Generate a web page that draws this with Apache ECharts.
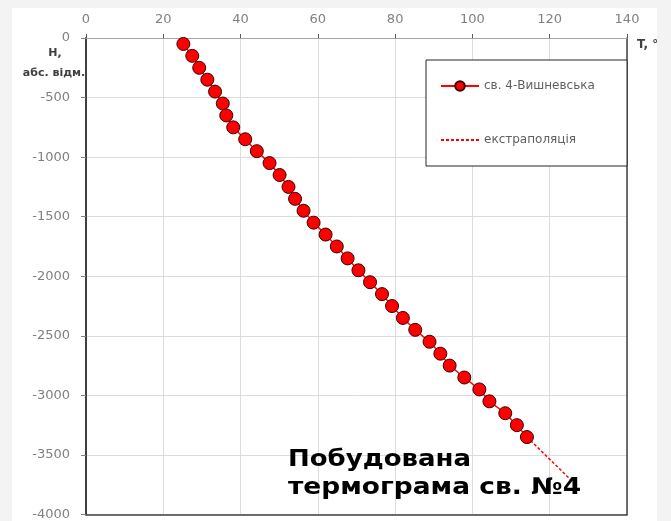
<!DOCTYPE html>
<html>
<head>
<meta charset="utf-8">
<script src="https://cdn.jsdelivr.net/npm/echarts@6/dist/echarts.min.js"></script>
<style>
html,body{margin:0;padding:0;background:#fff;}
#chart{width:671px;height:521px;}
</style>
</head>
<body>
<div id="chart"></div>
<script>
// Temperature (°C) measured in well 4-Vyshnevska
const temps = [25.2, 27.5, 29.3, 31.4, 33.4, 35.4, 36.3, 38.1, 41.2, 44.2, 47.5, 50.1, 52.4, 54.1, 56.3,
  58.9, 62.0, 64.9, 67.7, 70.5, 73.5, 76.6, 79.2, 82.0, 85.2, 88.9, 91.7, 94.1, 97.9, 101.8, 104.4, 108.5, 111.5, 114.1];
// Absolute elevation (m)
const depths = [-50, -150, -250, -350, -450, -550, -650, -750, -850, -950, -1050, -1150, -1250, -1350, -1450,
  -1550, -1650, -1750, -1850, -1950, -2050, -2150, -2250, -2350, -2450, -2550, -2650, -2750, -2850, -2950, -3050, -3150, -3250, -3350];
// Extrapolation segment
const extrapTemps = [114.1, 125.5];
const extrapDepths = [-3350, -3710];
const seriesNames = ['св. 4-Вишневська', 'екстраполяція'];
const xTicks = [0, 20, 40, 60, 80, 100, 120, 140];
const yTicks = [0, -500, -1000, -1500, -2000, -2500, -3000, -3500, -4000];

const measured = temps.map((t, i) => [t, depths[i]]);
const extrap = extrapTemps.map((t, i) => [t, extrapDepths[i]]);

const chart = echarts.init(document.getElementById('chart'), null, {renderer: 'canvas'});
const labelFont = {color: '#808080', fontSize: 13, fontFamily: 'DejaVu Sans'};
const titleFont = 'bold 23px "DejaVu Sans"';
chart.setOption({
  backgroundColor: '#ffffff',
  animation: false,
  grid: {left: 86, top: 38, right: 44, bottom: 4},
  legend: {
    data: [{name: seriesNames[0]}, {name: seriesNames[1], itemStyle: {opacity: 0}}],
    orient: 'vertical',
    left: 440, top: 80,
    itemWidth: 38, itemHeight: 12, itemGap: 42,
    padding: 0,
    textStyle: {fontSize: 12, color: '#606060', fontFamily: 'DejaVu Sans'},
    z: 10
  },
  xAxis: [{
    type: 'value', position: 'top', min: xTicks[0], max: xTicks[xTicks.length - 1], interval: 20,
    axisLine: {show: true, lineStyle: {color: '#a6a6a6', width: 1}},
    axisTick: {show: true, length: 4, lineStyle: {color: '#595959'}},
    axisLabel: Object.assign({margin: 12, formatter: v => String(v)}, labelFont),
    splitLine: {show: true, lineStyle: {color: '#dcdcdc', width: 1}}
  }, {
    type: 'value', position: 'bottom', min: 0, max: 140, interval: 20,
    axisLine: {show: true, onZero: false, lineStyle: {color: '#404040', width: 1.5}},
    axisTick: {show: false}, axisLabel: {show: false}, splitLine: {show: false}
  }],
  yAxis: [{
    type: 'value', position: 'left', min: yTicks[yTicks.length - 1], max: yTicks[0], interval: 500,
    axisLine: {show: true, onZero: false, lineStyle: {color: '#404040', width: 2}},
    axisTick: {show: true, length: 5, lineStyle: {color: '#808080'}},
    axisLabel: Object.assign({margin: 16, formatter: v => String(v)}, labelFont),
    splitLine: {show: true, lineStyle: {color: '#dcdcdc', width: 1}}
  }, {
    type: 'value', position: 'right', min: -4000, max: 0, interval: 500,
    axisLine: {show: true, onZero: false, lineStyle: {color: '#404040', width: 1.5}},
    axisTick: {show: false}, axisLabel: {show: false}, splitLine: {show: false}
  }],
  graphic: [
    {type: 'rect', shape: {x: 426, y: 60, width: 201, height: 106}, style: {fill: '#ffffff', stroke: '#262626', lineWidth: 1}, z: 3},
    {type: 'text', x: 55, y: 53, style: {text: 'H,', fill: '#404040', font: 'bold 11px "DejaVu Sans"', align: 'center', verticalAlign: 'middle'}, z: 5},
    {type: 'text', x: 54, y: 73, style: {text: 'абс. відм.', fill: '#404040', font: 'bold 11px "DejaVu Sans"', align: 'center', verticalAlign: 'middle'}, z: 5},
    {type: 'text', x: 637, y: 45, style: {text: 'T, °C', fill: '#404040', font: 'bold 12px "DejaVu Sans"', align: 'left', verticalAlign: 'middle'}, z: 5},
    {type: 'text', x: 288, y: 460, scaleX: 1.13, style: {text: 'Побудована', fill: '#000000', font: titleFont, align: 'left', verticalAlign: 'middle'}, z: 20},
    {type: 'text', x: 288, y: 488, scaleX: 1.15, style: {text: 'термограма св. №4', fill: '#000000', font: titleFont, align: 'left', verticalAlign: 'middle'}, z: 20},
    {type: 'rect', shape: {x: 0, y: 0, width: 671, height: 8}, style: {fill: '#f3f3f3'}, z: 100},
    {type: 'rect', shape: {x: 0, y: 0, width: 12, height: 521}, style: {fill: '#f3f3f3'}, z: 100},
    {type: 'rect', shape: {x: 657, y: 0, width: 14, height: 521}, style: {fill: '#f3f3f3'}, z: 100}
  ],
  series: [{
    name: seriesNames[0], type: 'line', data: measured,
    symbol: 'circle', symbolSize: 13,
    lineStyle: {color: '#ff0000', width: 1.5},
    itemStyle: {color: '#ff0000', borderColor: '#3a0000', borderWidth: 1},
    z: 5
  }, {
    name: seriesNames[1], type: 'line', data: extrap,
    symbol: 'none',
    lineStyle: {color: '#ff0000', width: 1.5, type: [3, 2]},
    itemStyle: {color: '#ff0000'},
    z: 4
  }]
});
</script>
</body>
</html>
